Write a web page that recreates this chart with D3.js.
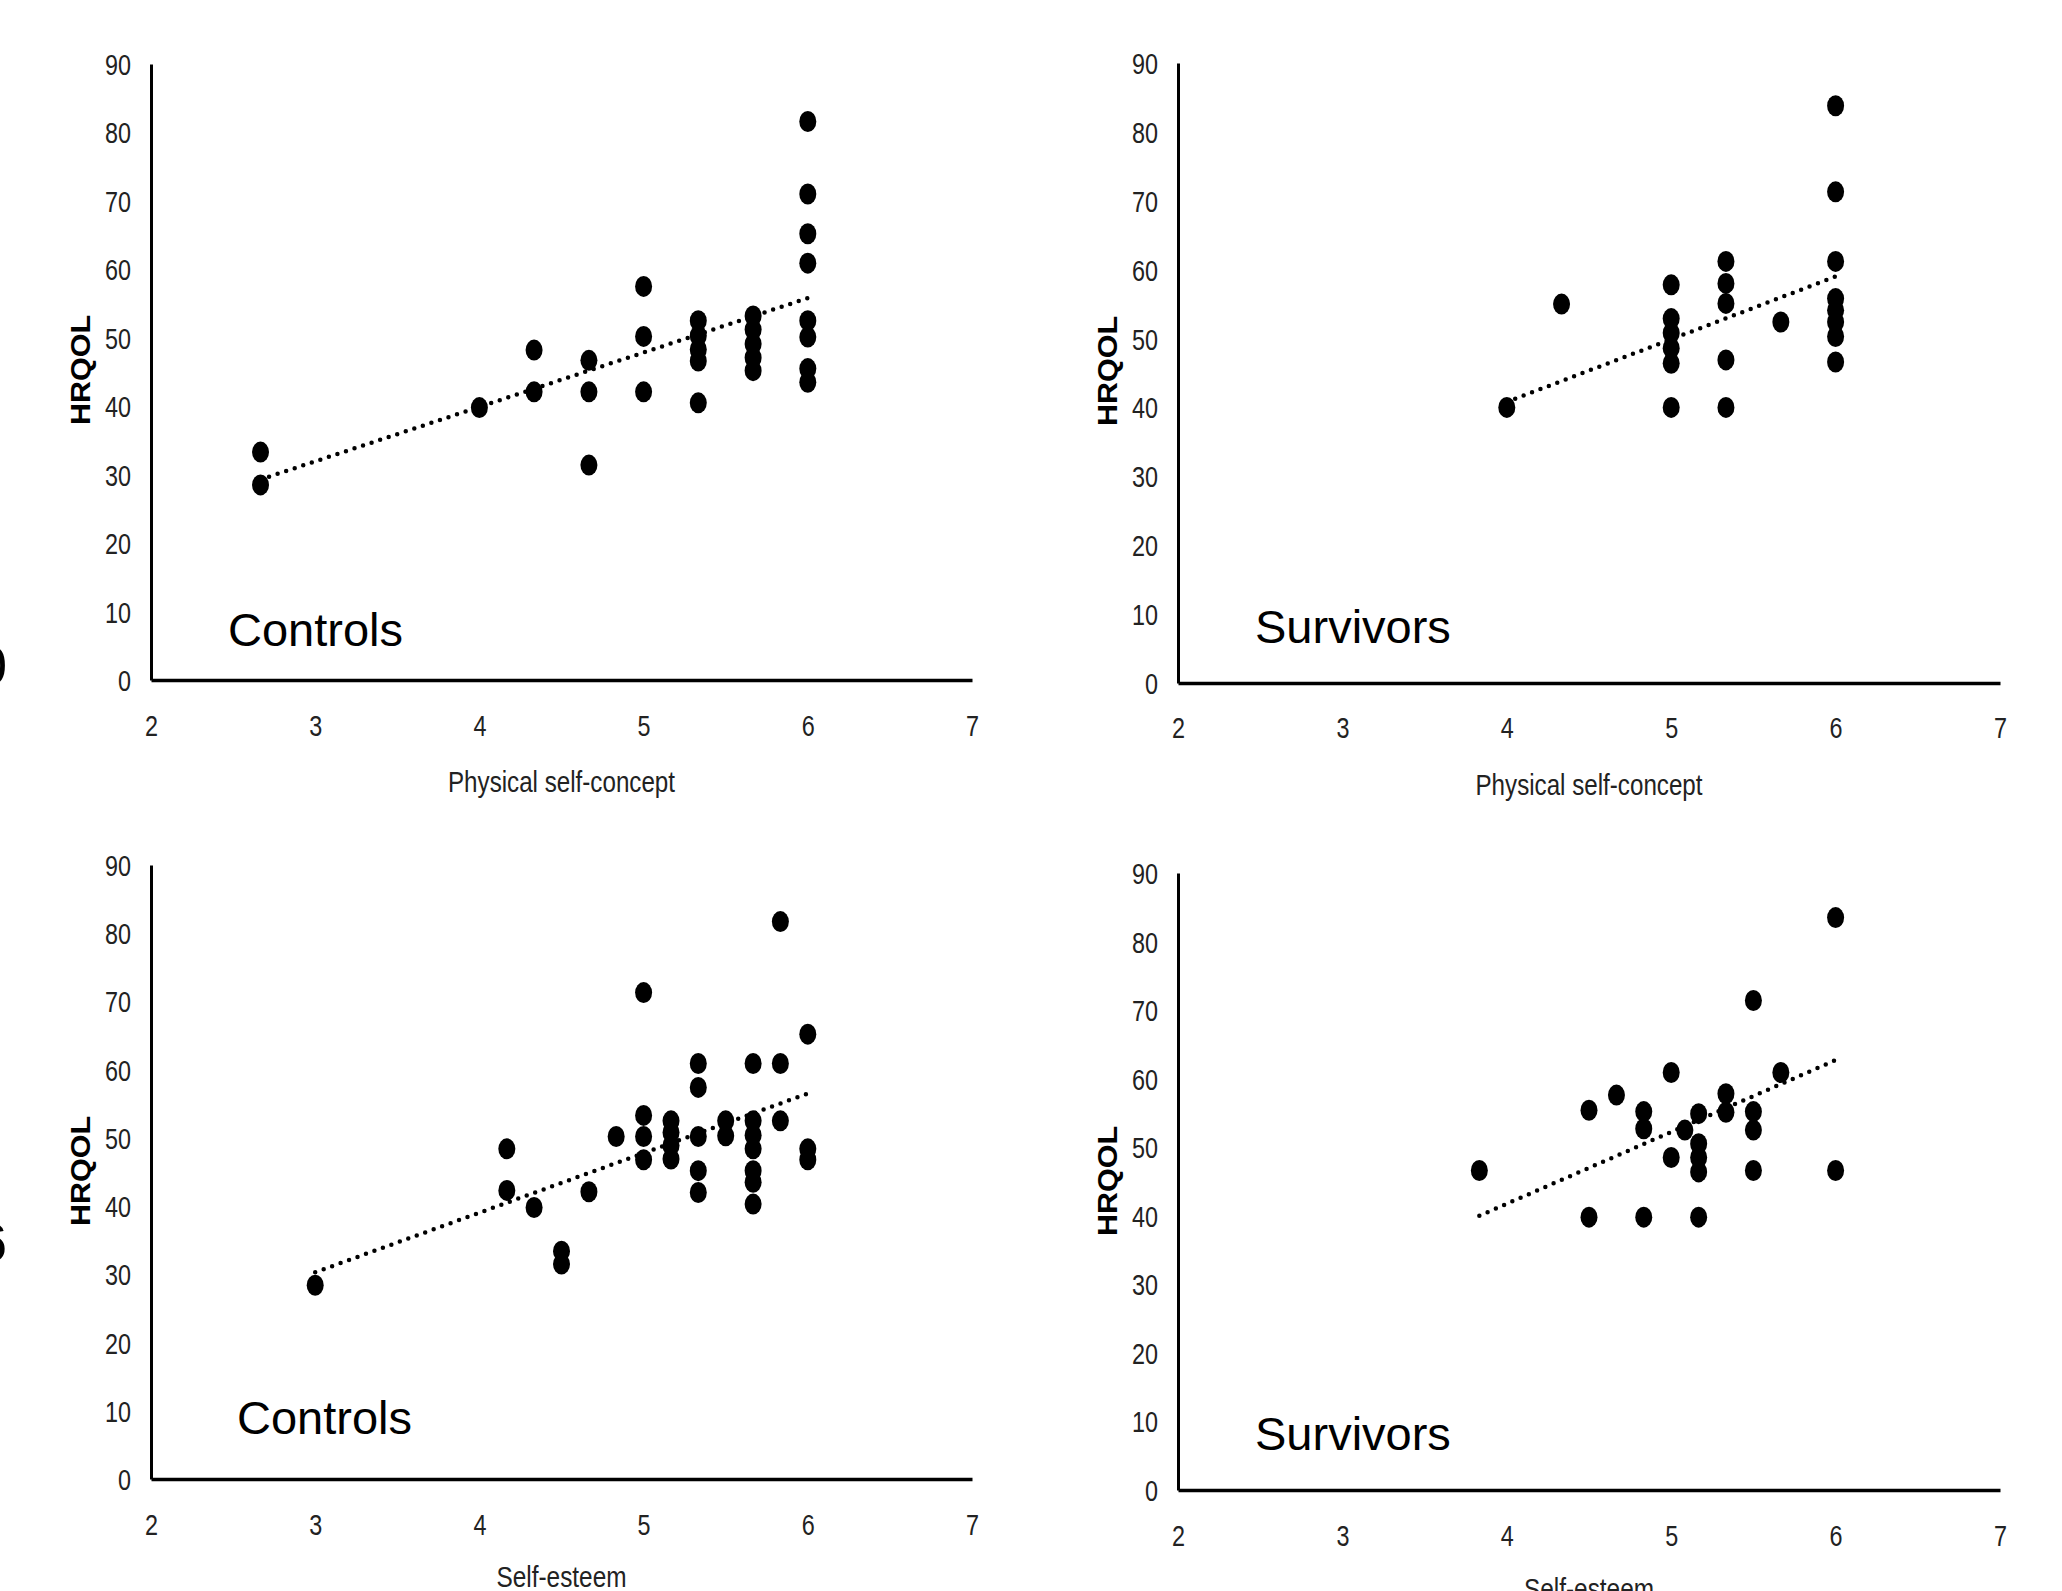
<!DOCTYPE html>
<html><head><meta charset="utf-8">
<script src="https://cdn.jsdelivr.net/npm/d3@7"></script>
<style>html,body{margin:0;padding:0;background:#fff;overflow:hidden}</style>
</head><body>
<svg id="chart" width="2062" height="1591"></svg>
<script>
// ---------- data ----------
const xTickValues = [2, 3, 4, 5, 6, 7];
const yTickValues = [0, 10, 20, 30, 40, 50, 60, 70, 80, 90];
const groupLabels = ["Controls", "Survivors", "Controls", "Survivors"];
const xAxisTitles = ["Physical self-concept", "Physical self-concept", "Self-esteem", "Self-esteem"];
const yAxisTitle = "HRQOL";
const edgeMarks = ["0", "6"];

// Controls – physical self-concept
const controlsPhysX = [2.667, 2.667, 4, 4.333, 4.333, 4.667, 4.667, 4.667, 5, 5, 5,
  5.333, 5.333, 5.333, 5.333, 5.333, 5.667, 5.667, 5.667, 5.667, 5.667,
  6, 6, 6, 6, 6, 6, 6, 6];
const controlsPhysY = [33.3, 28.5, 39.8, 48.2, 42.1, 46.7, 42.1, 31.4, 57.5, 50.2, 42.1,
  52.5, 50.3, 48.3, 46.6, 40.5, 53.2, 51.2, 49.1, 47.1, 45.2,
  81.6, 71.0, 65.2, 60.9, 52.5, 50.1, 45.5, 43.5];
const controlsPhysTrend = [[2.667, 29.3], [6, 55.8]];

// Survivors – physical self-concept
const survivorsPhysX = [4, 4.333, 5, 5, 5, 5, 5, 5, 5.333, 5.333, 5.333, 5.333, 5.333,
  5.667, 6, 6, 6, 6, 6, 6, 6, 6];
const survivorsPhysY = [40, 55.0, 57.8, 52.9, 50.8, 48.6, 46.4, 40, 61.2, 58.0, 55.1, 46.9, 40,
  52.4, 83.8, 71.3, 61.2, 55.8, 54.1, 52.4, 50.3, 46.6];
const survivorsPhysTrend = [[4, 40.8], [6, 59.0]];

// Controls – self-esteem
const controlsSelfX = [3, 4.167, 4.167, 4.333, 4.5, 4.5, 4.667, 4.833, 5, 5, 5, 5,
  5.167, 5.167, 5.167, 5.167, 5.333, 5.333, 5.333, 5.333, 5.333, 5.5, 5.5,
  5.667, 5.667, 5.667, 5.667, 5.667, 5.667, 5.667, 5.833, 5.833, 5.833, 6, 6, 6];
const controlsSelfY = [28.4, 48.4, 42.3, 39.8, 33.4, 31.5, 42.1, 50.2, 71.3, 53.3, 50.2, 46.8,
  52.5, 50.8, 48.9, 46.9, 60.9, 57.4, 50.2, 45.2, 42.0, 52.5, 50.3,
  60.9, 52.5, 50.4, 48.4, 45.2, 43.5, 40.3, 81.7, 60.9, 52.5, 65.2, 48.4, 46.8];
const controlsSelfTrend = [[3, 30.3], [6, 56.5]];

// Survivors – self-esteem
const survivorsSelfX = [3.833, 4.5, 4.5, 4.667, 4.833, 4.833, 4.833, 5, 5, 5.083,
  5.167, 5.167, 5.167, 5.167, 5.167, 5.333, 5.333, 5.5, 5.5, 5.5, 5.5, 5.667, 6, 6];
const survivorsSelfY = [46.6, 55.4, 39.8, 57.6, 55.2, 52.7, 39.8, 60.9, 48.5, 52.5,
  54.9, 50.5, 48.5, 46.4, 39.8, 57.8, 55.1, 71.4, 55.2, 52.5, 46.6, 60.9, 83.5, 46.6];
const survivorsSelfTrend = [[3.833, 40.0], [6, 62.7]];

const seriesX = [controlsPhysX, survivorsPhysX, controlsSelfX, survivorsSelfX];
const seriesY = [controlsPhysY, survivorsPhysY, controlsSelfY, survivorsSelfY];
const trends = [controlsPhysTrend, survivorsPhysTrend, controlsSelfTrend, survivorsSelfTrend];

// ---------- layout ----------
const layout = [
  {left: 151, right: 972, zero: 680, top: 64, tickBase: 736, titleBase: 792, hX: 89.5, hY: 370, lX: 228, lBase: 646},
  {left: 1178, right: 2000, zero: 683, top: 63, tickBase: 738, titleBase: 795, hX: 1117, hY: 371, lX: 1255, lBase: 643},
  {left: 151, right: 972, zero: 1479, top: 865, tickBase: 1535, titleBase: 1587, hX: 89.5, hY: 1171, lX: 237, lBase: 1434},
  {left: 1178, right: 2000, zero: 1490, top: 873, tickBase: 1546, titleBase: 1599, hX: 1117, hY: 1181, lX: 1255, lBase: 1450}
];
const tickFont = "'Liberation Sans',Arial,sans-serif";
const charW = 13; // narrow glyph width for tick labels
const titleWidths = {"Physical self-concept": 227, "Self-esteem": 130};

const svg = d3.select("#chart");
svg.append("rect").attr("width", 2062).attr("height", 1591).attr("fill", "#fff");

layout.forEach((L, i) => {
  const x = d3.scaleLinear().domain([2, 7]).range([L.left, L.right]);
  const y = d3.scaleLinear().domain([0, 90]).range([L.zero, L.top]);
  const g = svg.append("g");

  // y axis
  const ya = g.append("g").attr("transform", `translate(${L.left},0)`)
    .call(d3.axisLeft(y).tickValues(yTickValues).tickFormat(d3.format("d"))
      .tickSize(0).tickSizeOuter(0).tickPadding(20));
  ya.select(".domain").attr("stroke", "#000").attr("stroke-width", 3);
  ya.selectAll("text").attr("font-family", tickFont).attr("font-size", 29)
    .attr("fill", "#222").attr("dy", "0.36em")
    .attr("textLength", function () { return this.textContent.length * charW; })
    .attr("lengthAdjust", "spacingAndGlyphs");

  // x axis
  const xa = g.append("g").attr("transform", `translate(0,${L.zero})`)
    .call(d3.axisBottom(x).tickValues(xTickValues).tickFormat(d3.format("d"))
      .tickSize(0).tickSizeOuter(0));
  xa.select(".domain").attr("stroke", "#000").attr("stroke-width", 3.5);
  xa.selectAll("text").attr("font-family", tickFont).attr("font-size", 29)
    .attr("fill", "#222").attr("dy", null).attr("y", L.tickBase - L.zero)
    .attr("textLength", function () { return this.textContent.length * charW; })
    .attr("lengthAdjust", "spacingAndGlyphs");

  // trend line (dotted)
  g.append("path")
    .datum(trends[i])
    .attr("d", d3.line().x(d => x(d[0])).y(d => y(d[1])))
    .attr("fill", "none").attr("stroke", "#000").attr("stroke-width", 4.5)
    .attr("stroke-linecap", "round").attr("stroke-dasharray", "0 9");

  // points
  g.selectAll("ellipse.pt").data(d3.range(seriesX[i].length)).enter()
    .append("ellipse").attr("class", "pt")
    .attr("cx", k => x(seriesX[i][k])).attr("cy", k => y(seriesY[i][k]))
    .attr("rx", 8.5).attr("ry", 10.5).attr("fill", "#000");

  // axis title
  g.append("text").attr("x", (L.left + L.right) / 2).attr("y", L.titleBase)
    .attr("text-anchor", "middle").attr("font-family", tickFont).attr("font-size", 29)
    .attr("textLength", titleWidths[xAxisTitles[i]]).attr("lengthAdjust", "spacingAndGlyphs")
    .attr("fill", "#222").text(xAxisTitles[i]);

  // HRQOL
  g.append("text").attr("transform", `translate(${L.hX},${L.hY}) rotate(-90)`)
    .attr("text-anchor", "middle").attr("font-family", "'Liberation Sans',Arial,sans-serif")
    .attr("font-weight", "bold").attr("font-size", 27)
    .attr("textLength", 110).attr("lengthAdjust", "spacingAndGlyphs")
    .attr("fill", "#000").text(yAxisTitle);

  // group label
  g.append("text").attr("x", L.lX).attr("y", L.lBase)
    .attr("font-family", "'Liberation Sans',Arial,sans-serif").attr("font-size", 47)
    .attr("fill", "#000").text(groupLabels[i]);
});

// partially visible marks at the left edge
const edgeBase = [684, 1261];
edgeMarks.forEach((t, j) => {
  svg.append("text").attr("x", 7).attr("y", edgeBase[j]).attr("text-anchor", "end")
    .attr("font-family", "'Liberation Sans',Arial,sans-serif").attr("font-size", 54)
    .attr("fill", "#000").text(t);
});
</script>
</body></html>
